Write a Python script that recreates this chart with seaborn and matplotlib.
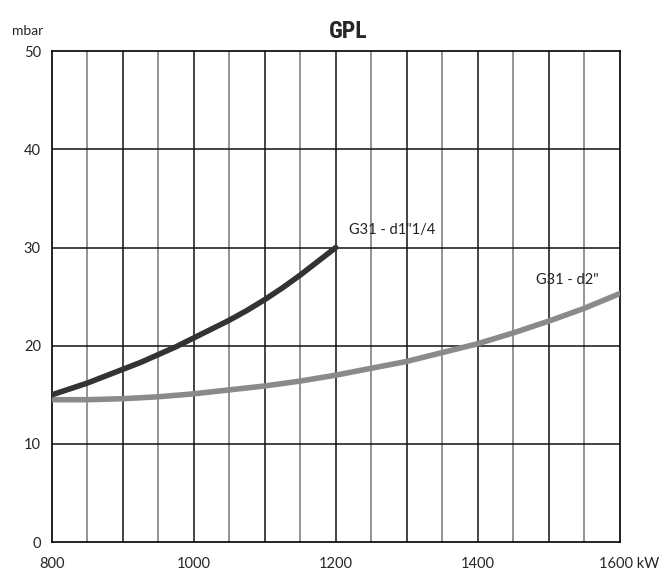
import numpy as np
import pandas as pd
import seaborn as sns
import matplotlib.pyplot as plt
import matplotlib.transforms as mtransforms

# valori
portata_d114 = [800, 825, 850, 875, 900, 925, 950, 975, 1000, 1025, 1050,
                1075, 1100, 1125, 1150, 1175, 1200]
pressione_d114 = [15.0, 15.6, 16.2, 16.9, 17.6, 18.3, 19.1, 19.9, 20.8, 21.7, 22.6,
                  23.6, 24.7, 25.9, 27.2, 28.6, 30.0]

portata_d2 = [800, 850, 900, 950, 1000, 1050, 1100, 1150, 1200, 1250, 1300,
              1350, 1400, 1450, 1500, 1550, 1600]
pressione_d2 = [14.5, 14.5, 14.6, 14.8, 15.1, 15.5, 15.9, 16.4, 17.0, 17.7, 18.4,
                19.3, 20.2, 21.3, 22.5, 23.8, 25.3]

x_ticks = [800, 1000, 1200, 1400, 1600]
x_labels = ["800", "1000", "1200", "1400", "1600 kW"]
y_ticks = [0, 10, 20, 30, 40, 50]

sns.set_style("white")
plt.rcParams['font.family'] = ['Lato', 'DejaVu Sans']

df1 = pd.DataFrame({"kW": portata_d114, "mbar": pressione_d114})
df2 = pd.DataFrame({"kW": portata_d2, "mbar": pressione_d2})

fig = plt.figure(figsize=(6.63, 5.72), dpi=100)
ax = fig.add_axes([0.0784, 0.0524, 0.856, 0.858])

# griglia: verticali ogni 50 (grigie) e 100 (nere), orizzontali ogni 10
for x in range(850, 1600, 50):
    ax.axvline(x, color="#111111" if x % 100 == 0 else "#777777", lw=1.1, zorder=1)
for y in range(10, 50, 10):
    ax.axhline(y, color="#111111", lw=1.1, zorder=1)

sns.lineplot(data=df2, x="kW", y="mbar", ax=ax, color="#8a8a8a", lw=4, zorder=3)
sns.lineplot(data=df1, x="kW", y="mbar", ax=ax, color="#333333", lw=4, zorder=4)

ax.text(1218, 31.8, 'G31 - d1"1/4', fontsize=10.5, va="center", color="#222222")
ax.text(1482, 26.7, 'G31 - d2"', fontsize=10.5, va="center", color="#222222")

ax.set_xlim(800, 1600)
ax.set_ylim(0, 50)
ax.set_xticks(x_ticks)
ax.set_yticks(y_ticks)
ax.set_xticklabels(x_labels, fontsize=10.5)
ax.set_yticklabels([str(v) for v in y_ticks], fontsize=10.5)
ax.tick_params(axis="x", length=0, pad=11)
ax.tick_params(axis="y", length=0, pad=8)
ax.set_xlabel("")
ax.set_ylabel("")
for s in ax.spines.values():
    s.set_color("black")
    s.set_linewidth(1.2)

# "1600 kW" spostata a destra come nell'originale
last = ax.get_xticklabels()[-1]
last.set_transform(last.get_transform() +
                   mtransforms.ScaledTranslation(7 / 72, 0, fig.dpi_scale_trans))

fig.text(0.018, 0.935, "mbar", fontsize=10, ha="left", va="bottom")
fig.text(0.525, 0.945, "GPL", fontsize=17, fontweight="bold",
         ha="center", va="center", family=['Roboto Condensed', 'Roboto', 'DejaVu Sans'])

fig.savefig("out.png", dpi=100)
